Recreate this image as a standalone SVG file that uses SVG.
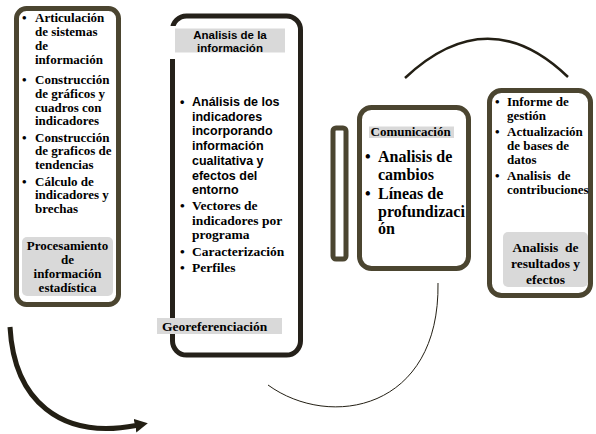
<svg xmlns="http://www.w3.org/2000/svg" width="596" height="434" viewBox="0 0 596 434">
<defs>
<style>
.box{fill:#fff;stroke:#4b4530;stroke-width:5}
.box2{fill:#fff;stroke:#25211a;stroke-width:5}
.lab{fill:#d9d9d9}
.t{font-family:"Liberation Serif","Times New Roman",serif;font-weight:bold;fill:#000}
.s{font-family:"Liberation Sans",Arial,sans-serif;font-weight:bold;fill:#000}
.f13{font-size:13px}
.f135{font-size:13.5px}
.f16{font-size:16px}
.c{text-anchor:middle}
.arc{fill:none;stroke:#231f14}
</style>
<marker id="ah" markerUnits="userSpaceOnUse" markerWidth="13" markerHeight="14" viewBox="0 0 13 14" refX="1" refY="7" orient="auto">
<path d="M0,0 L13,7 L0,14 Z" fill="#231f14"/>
</marker>
</defs>

<g id="connectors">
<path class="arc" d="M10,327 C14,400 60,440 136,425.5" stroke-width="5" marker-end="url(#ah)"/>
<path class="arc" d="M268,385 C330,430 440,410 438,283" stroke-width="1" stroke="#333"/>
<path class="arc" d="M405,78 Q488,0 568,77" stroke-width="2.5"/>
</g>

<g id="procesamiento">
<rect class="box" x="16.5" y="8.5" width="102" height="296" rx="10"/>
<g class="t f13">
<text x="22" y="21.5">•</text><text x="35" y="21.5">Articulación</text>
<text x="35" y="35.5">de sistemas</text>
<text x="35" y="49.5">de</text>
<text x="35" y="63.5">información</text>
<text x="22" y="83.5">•</text><text x="35" y="83.5">Construcción</text>
<text x="35" y="97.5">de gráficos y</text>
<text x="35" y="111.5">cuadros con</text>
<text x="35" y="125">indicadores</text>
<text x="22" y="141.5">•</text><text x="35" y="141.5">Construcción</text>
<text x="35" y="155">de graficos de</text>
<text x="35" y="168.5">tendencias</text>
<text x="22" y="185.5">•</text><text x="35" y="185.5">Cálculo de</text>
<text x="35" y="199">indicadores y</text>
<text x="35" y="212.5">brechas</text>
</g>
<rect class="lab" x="22" y="237" width="91" height="59" rx="5"/>
<g class="t f13 c">
<text x="67.5" y="249.5">Procesamiento</text>
<text x="67.5" y="263.5">de</text>
<text x="67.5" y="277.5">información</text>
<text x="67.5" y="291.5">estadística</text>
</g>
</g>

<g id="analisis">
<rect class="box2" x="172.5" y="16" width="128" height="339" rx="14"/>
<rect x="166" y="26" width="12" height="33" fill="#fff"/>
<rect class="lab" x="175" y="28.5" width="110" height="24"/>
<text class="s c" x="230" y="39" font-size="11.5">Analisis de la</text>
<text class="s c" x="230" y="51.5" font-size="11.5">información</text>
<g class="s" font-size="12.5">
<text x="180" y="106">•</text><text x="192" y="106">Análisis de los</text>
<text x="192" y="120.7">indicadores</text>
<text x="192" y="135.4">incorporando</text>
<text x="192" y="150.1">información</text>
<text x="192" y="164.8">cualitativa y</text>
<text x="192" y="179.5">efectos del</text>
<text x="192" y="194.2">entorno</text>
</g>
<g class="t f135">
<text x="180" y="210">•</text><text x="192" y="210">Vectores de</text>
<text x="192" y="224.5">indicadores por</text>
<text x="192" y="239">programa</text>
<text x="180" y="256">•</text><text x="192" y="256">Caracterización</text>
<text x="180" y="271.5">•</text><text x="192" y="271.5">Perfiles</text>
</g>
<rect class="lab" x="157" y="318" width="125" height="16"/>
<text class="t f135" x="162" y="330.5">Georeferenciación</text>
</g>

<g id="barra">
<rect class="box" x="333" y="128" width="13" height="131" rx="3" stroke-width="4"/>
</g>

<g id="comunicacion">
<rect class="box" x="359.5" y="107.5" width="109" height="161" rx="12"/>
<rect class="lab" x="369" y="126.5" width="85" height="11.5"/>
<text class="t f13" x="370.5" y="136">Comunicación</text>
<g class="t f16">
<text x="365" y="161.5">•</text><text x="378" y="161.5">Analisis de</text>
<text x="378" y="180">cambios</text>
<text x="365" y="198.5">•</text><text x="378" y="198.5">Líneas de</text>
<text x="378" y="216.5">profundizaci</text>
<text x="378" y="234">ón</text>
</g>
</g>

<g id="resultados">
<rect class="box" x="489.5" y="90.5" width="101" height="205" rx="12"/>
<g class="t f13">
<text x="495" y="106">•</text><text x="507" y="106">Informe de</text>
<text x="507" y="120">gestión</text>
<text x="495" y="135.5">•</text><text x="507" y="135.5">Actualización</text>
<text x="507" y="149.5">de bases de</text>
<text x="507" y="163.5">datos</text>
<text x="495" y="179.5">•</text><text x="507" y="179.5" xml:space="preserve">Analisis  de</text>
<text x="507" y="193.5">contribuciones</text>
</g>
<rect class="lab" x="503" y="232" width="85" height="55" rx="5"/>
<g class="t f135 c">
<text x="545.5" y="251.5" xml:space="preserve">Analisis  de</text>
<text x="545.5" y="267.5">resultados y</text>
<text x="545.5" y="283.5">efectos</text>
</g>
</g>
</svg>
